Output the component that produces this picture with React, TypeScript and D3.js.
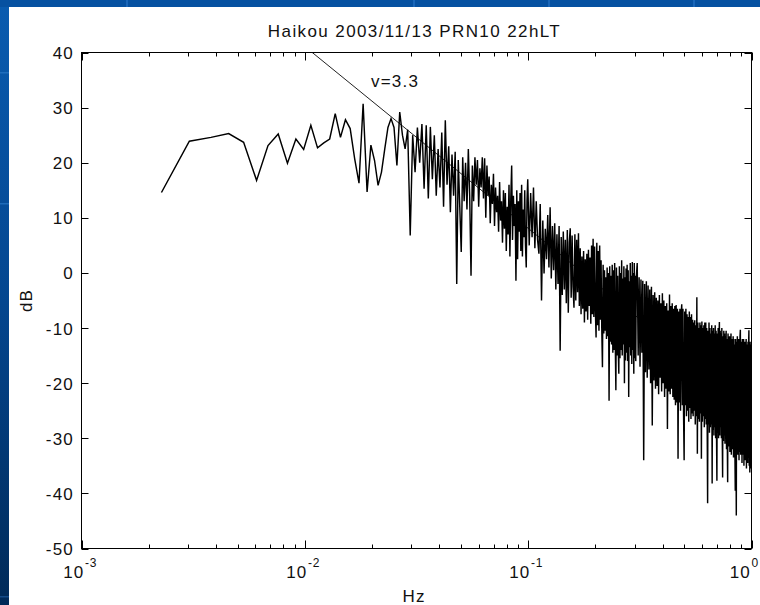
import React from 'react';
import * as d3 from 'd3';

const TITLE = 'Haikou 2003/11/13 PRN10 22hLT';
const X_LABEL = 'Hz';
const Y_LABEL = 'dB';
const FIT_LABEL = 'v=3.3';

// spectral resolution (Hz per FFT bin)
const FREQ_RES = 0.00076;

// dB for bins 3..130 (every bin)
const lowBand = [
  14.6, 23.9, 24.6, 25.3, 23.7, 16.8, 23.1, 25.2, 19.9, 24.3, 22.4, 26.8, 22.7, 23.6, 24.3, 28.9,
  24.6, 27.8, 26.2, 20.7, 16.3, 30.7, 14.7, 23.2, 20.4, 15.9, 18.3, 22.5, 26.4, 28.0, 26.4, 19.5,
  29.2, 25.0, 22.5, 26.0, 6.8, 25.0, 18.3, 26.4, 20.0,
  27.0, 15.3, 26.8, 13.5, 26.5, 17.0, 25.0, 14.0, 22.5, 15.5, 25.5, 12.0, 27.7, 16.0, 23.0, 11.0,
  21.5, 14.0, 22.0, -2.0, 20.5, 12.0, 3.8, 21.0, 13.0, 20.0, 11.5, 22.5, 14.0, -0.5, 19.5, 13.0,
  21.0, 16.0, 20.5, 12.0, 19.0, 15.5, 21.0, 13.5, 20.8, 10.0, 19.5, 14.0, 17.5, 9.0, 16.0, 12.5,
  18.0, 8.5, 15.5, 11.0, 14.0, 7.5, 16.5, 9.5, 13.0, 5.5, 15.0, 8.0, 14.5, 4.0, 12.0, 7.0,
  16.0, 3.0, 13.5, 19.5, 6.0, 14.0, 8.5, 12.5, -1.4, 15.0, 2.5, 13.0, 7.5, 14.5, 4.0, 16.0,
  3.0, 11.5, 6.5, 15.0, 5.0, 1.0, 13.0,
];
const LOW_START = 3;
const LOW_STEP = 1;

// dB for bins 131..399 (every 2nd bin)
const midBand = [
  17.0, 5.0, 14.5, 6.5, 15.5, 4.5, 13.0, 6.0, 3.5, 12.5, -5.0, 9.5, -0.1, 8.0, 2.5, 10.5,
  1.0, 11.9, -1.0, 8.5, 0.5, 9.0, -3.0, 7.0, -2.0, 8.5, -14.1, 6.5, -4.0, 7.5, -3.0, 6.0,
  -5.5, 7.8, -7.2, 5.5, 8.1, -4.5, 6.8, -2.5, -6.3, 7.0, -5.0, 6.0, -3.5, 7.2, -6.0, 4.5,
  -7.5, 3.0, -6.5, 4.0, -9.0, 2.5, -7.0, 3.5, -8.5, 4.2, -6.0, 2.8, -9.2, 5.0, -7.5, 6.2,
  -8.0, 4.8, -6.5, -11.7, 5.5, -9.5, 4.0, -10.5, 5.0, -8.5, 2.3, -10.0, -17.1, 1.5, -11.0, 0.5,
  -10.5, -0.8, -12.0, 1.0, -11.5, 0.0, -23.2, 1.2, -12.5, -0.5,
  -13.0, 1.5, -14.5, 0.5, -14.0, 1.8, -12.5, -21.3, 1.0, -15.0, -0.5, -13.5, -18.3, 1.2, -15.5, 0.0,
  -14.0, 2.3, -15.0, -1.0, -13.0, 1.2, -20.0, -0.8, -15.9, 0.8, -14.5, 1.5, -16.0, 0.5, -22.5, -1.5,
  -13.5, 1.8, -15.0, -0.5, -16.5, 2.0, -14.0, 0.0, -18.3, 1.8, -15.5, -0.5, -16.0,
];
const MID_START = 131;
const MID_STEP = 2;

// dB for bins 401..1313 (every 4th bin)
const highBand = [
  -1.0, 1.8, -15.0, -0.8, -17.0, -1.2, -14.5, -1.4, -34.0, -2.0, -18.0, -1.5, -19.0, -2.3, -17.5, -3.0,
  -20.0, -2.5, -27.7, -4.0, -19.5, -3.5, -21.0, -4.5, -20.5, -5.0, -22.0, -4.0, -19.0, -5.5, -21.5, -3.7,
  -20.0, -5.0, -22.5, -6.0,
  -21.0, -5.5, -28.3, -6.8, -21.5, -3.9, -22.0, -6.0, -21.0, -5.5, -22.5, -6.5, -23.0, -6.0, -24.0, -5.8,
  -23.5, -6.5, -33.7, -7.0, -23.5, -6.5, -25.0, -7.5, -5.7, -24.0, -6.5, -25.5, -34.0, -7.0, -24.0,
  -6.5, -26.0, -7.5, -25.0, -8.0, -27.0, -7.0, -24.5, -8.0, -26.5, -7.5, -25.5, -8.5,
  -26.0, -9.0, -25.0, -8.6, -27.5, -9.5, -26.0, -4.4, -32.8, -9.0, -26.5, -10.0, -27.0, -9.0, -25.5, -9.5,
  -33.7, -8.8, -27.0, -10.0, -26.0, -9.5, -28.0, -9.0, -26.5, -9.0, -27.5, -10.0, -27.0, -41.8, -10.5, -27.5,
  -9.0, -29.0, -10.0, -28.0, -11.0, -27.5, -9.5, -38.2, -10.5, -28.5, -10.0, -29.5, -11.0, -28.0, -9.5, -30.0,
  -10.5, -28.5, -37.7, -11.0, -29.0, -10.0, -30.0, -11.5, -8.9, -29.5, -10.5, -28.0, -11.0, -30.0, -10.0, -29.0,
  -37.1, -11.5, -30.5, -10.5, -29.5, -11.0, -31.0, -11.5, -30.0, -10.5, -32.0, -12.0, -30.5, -38.0, -11.0, -31.5,
  -12.0, -30.0, -11.5, -32.5, -12.5, -31.0, -11.0, -33.0, -12.0, -31.5, -12.5, -32.0, -11.5, -33.5, -12.0, -31.0,
  -13.0, -32.5, -39.5, -12.0, -31.5, -44.0, -12.5, -32.0, -11.5, -33.0, -13.0, -31.5, -12.0, -34.0, -12.5, -32.5,
  -11.5, -10.3, -33.0, -12.5, -32.0, -13.0, -34.5, -12.0, -33.0, -13.5, -32.5, -12.0, -35.0, -13.0, -33.5, -12.5,
  -34.0, -13.5, -32.0, -12.0, -35.5, -13.0, -33.0, -14.0, -34.5, -12.5, -33.5, -13.0, -10.4, -35.0, -13.5, -36.2,
  -12.5, -34.0, -14.0, -35.5, -13.0,
];
const HIGH_START = 401;
const HIGH_STEP = 4;

// fitted power law: spectral index and level at 1 Hz (dB)
const FIT_INDEX = 3.3;
const FIT_LEVEL_1HZ = -24.9;

const yTicks = [-50, -40, -30, -20, -10, 0, 10, 20, 30, 40];
const xDecades = [-3, -2, -1, 0];
const minorMultipliers = [2, 3, 4, 5, 6, 7, 8, 9];

const W = 760;
const H = 605;
const PL = 81.5;
const PR = 751.5;
const PT = 52.5;
const PB = 548.5;

const FONT = '"Liberation Sans", Arial, Helvetica, sans-serif';

export default function App() {
  const x = d3.scaleLog().domain([1e-3, 1]).range([PL, PR]);
  const y = d3.scaleLinear().domain([-50, 40]).range([PB, PT]);

  const bands = [
    { start: LOW_START, step: LOW_STEP, values: lowBand },
    { start: MID_START, step: MID_STEP, values: midBand },
    { start: HIGH_START, step: HIGH_STEP, values: highBand },
  ];
  const pts = bands.flatMap((b) =>
    b.values.map((v, i) => ({ f: (b.start + i * b.step) * FREQ_RES, db: v }))
  );

  const line = d3
    .line<{ f: number; db: number }>()
    .x((d) => x(d.f))
    .y((d) => y(d.db));

  const fitPts = [1e-3, 1].map((f) => ({ f, db: FIT_LEVEL_1HZ - 10 * FIT_INDEX * Math.log10(f) }));

  const minorTicks: number[] = [];
  xDecades.forEach((d) => {
    if (d < 0) minorMultipliers.forEach((m) => minorTicks.push(m * Math.pow(10, d)));
  });

  const textStyle = { fontFamily: FONT, fontSize: 17, letterSpacing: '1.2px', fill: '#111' } as const;

  return (
    <svg
      width={W}
      height={H}
      style={{ position: 'absolute', left: 0, top: 0, display: 'block' }}
      xmlns="http://www.w3.org/2000/svg"
    >
      <defs>
        <linearGradient id="bgGrad" x1="0" y1="0" x2="0" y2="1">
          <stop offset="0" stopColor="#0a5cb0" />
          <stop offset="0.5" stopColor="#04468f" />
          <stop offset="1" stopColor="#002a58" />
        </linearGradient>
        <clipPath id="plotClip">
          <rect x={PL} y={PT} width={PR - PL} height={PB - PT} />
        </clipPath>
      </defs>
      <rect x={0} y={0} width={W} height={H} fill="url(#bgGrad)" />
      <rect x={0} y={0} width={W} height={7} fill="#0651a1" />
      {[126, 413, 548, 693].map((lx) => (
        <rect key={lx} x={lx} y={0} width={2} height={7} fill="#1a66b8" />
      ))}
      <rect x={0} y={72} width={9} height={1.5} fill="#2a77c6" opacity={0.7} />
      <rect x={0} y={203} width={9} height={1.5} fill="#2a77c6" opacity={0.7} />
      <rect x={0} y={596} width={9} height={1.5} fill="#1d5a9c" opacity={0.7} />
      <rect x={9} y={7} width={W - 9} height={H - 7} fill="#ffffff" />

      {/* data */}
      <g clipPath="url(#plotClip)">
        <path d={line(fitPts) || ''} fill="none" stroke="#222" strokeWidth={1} />
        <path d={line(pts) || ''} fill="none" stroke="#000" strokeWidth={1.45} strokeLinejoin="miter" />
      </g>

      {/* frame */}
      <rect x={PL} y={PT} width={PR - PL} height={PB - PT} fill="none" stroke="#000" strokeWidth={1} />

      {/* y ticks */}
      {yTicks.map((t) => (
        <g key={'y' + t}>
          <line x1={PL} x2={PL + 7} y1={Math.round(y(t)) + 0.5} y2={Math.round(y(t)) + 0.5} stroke="#000" />
          <line x1={PR} x2={PR - 7} y1={Math.round(y(t)) + 0.5} y2={Math.round(y(t)) + 0.5} stroke="#000" />
          <text x={74} y={y(t) + 6.5} textAnchor="end" style={textStyle}>
            {t}
          </text>
        </g>
      ))}

      {/* x ticks */}
      {xDecades.map((d) => {
        const px = Math.round(x(Math.pow(10, d))) + 0.5;
        const shift = d === 0 ? -1.5 : 2;
        return (
          <g key={'xd' + d}>
            <line x1={px} x2={px} y1={PB} y2={PB - 8} stroke="#000" />
            <line x1={px} x2={px} y1={PT} y2={PT + 8} stroke="#000" />
            <text x={px + shift} y={578} textAnchor="end" style={textStyle}>
              10
            </text>
            <text
              x={px + shift + 0.5}
              y={566.5}
              textAnchor="start"
              style={{ ...textStyle, fontSize: 12, letterSpacing: d === 0 ? '0px' : '0.8px' }}
            >
              {d}
            </text>
          </g>
        );
      })}
      {minorTicks.map((f) => {
        const px = Math.round(x(f)) + 0.5;
        return (
          <g key={'xm' + f}>
            <line x1={px} x2={px} y1={PB} y2={PB - 4} stroke="#000" />
            <line x1={px} x2={px} y1={PT} y2={PT + 4} stroke="#000" />
          </g>
        );
      })}

      {/* labels */}
      <text x={414.5} y={37} textAnchor="middle" style={{ ...textStyle, letterSpacing: '1.4px' }}>
        {TITLE}
      </text>
      <text x={414} y={602} textAnchor="middle" style={textStyle}>
        {X_LABEL}
      </text>
      <text
        transform={`translate(32, ${(PT + PB) / 2}) rotate(-90)`}
        textAnchor="middle"
        style={textStyle}
      >
        {Y_LABEL}
      </text>
      <text x={371} y={87} style={textStyle}>
        {FIT_LABEL}
      </text>
    </svg>
  );
}
